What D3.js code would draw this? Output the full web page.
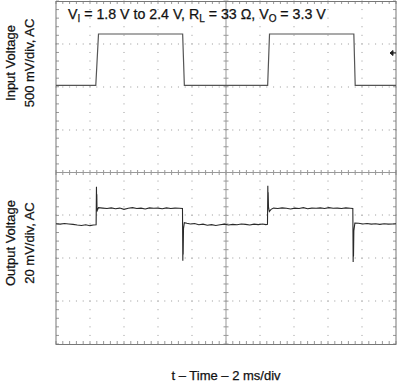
<!DOCTYPE html>
<html>
<head>
<meta charset="utf-8">
<script src="https://cdn.jsdelivr.net/npm/d3@7"></script>
<style>
  body { margin: 0; background: #fff; }
  svg text { font-family: "Liberation Sans", Arial, sans-serif; fill: #111; stroke: #111; stroke-width: 0.25px; }
</style>
</head>
<body>
<script>
const width = 400;
const height = 384;

// scope settings: 10 x 8 divisions
const timeDomain = [0, 20];          // ms, 2 ms/div
const inputCenter = 0.785;           // V at screen centre, 500 mV/div
const inputPerDiv = 0.5;
const outputCenter = 24.2;           // mV at screen centre, 20 mV/div
const outputPerDiv = 20;

// input step: time (ms), volts
const inputTrace = [
    [0, 1.8], [2.34, 1.8], [2.5, 2.4], [7.45, 2.4], [7.55, 1.8],
    [12.45, 1.8], [12.56, 2.4], [17.52, 2.4], [17.6, 1.8], [20, 1.8]
];

// output ripple: time (ms), mV (AC)
const outputTrace = [
    [0, 0.3], [0.25, 0.1], [0.5, 0.4], [0.75, 0.2], [1.0, 0.0], [1.25, -0.3], [1.5, -0.5],
    [1.75, -0.2], [2.0, -0.6], [2.2, -0.3], [2.36, -0.2],
    [2.38, 17.5], [2.39, 9.5], [2.40, 14], [2.41, 8], [2.43, 6.5], [2.5, 7.8],
    [2.75, 7.6], [3.0, 7.4], [3.25, 7.7], [3.5, 7.3], [3.75, 7.6], [4.0, 7.0], [4.25, 7.5],
    [4.5, 7.8], [4.75, 7.4], [5.0, 7.6], [5.25, 7.2], [5.5, 7.7], [5.75, 7.5], [6.0, 7.6],
    [6.25, 7.3], [6.5, 7.7], [6.75, 7.4], [7.0, 7.6], [7.25, 7.5], [7.44, 7.4],
    [7.46, -17], [7.47, -8], [7.48, -14], [7.50, -2], [7.55, 0.8], [7.7, 0.5],
    [7.9, 0.2], [8.15, 0.4], [8.4, -0.2], [8.65, 0.1], [8.9, -0.4], [9.15, -0.1], [9.4, -0.5],
    [9.65, -0.2], [9.9, 0.1], [10.15, -0.3], [10.4, 0.0], [10.65, -0.2], [10.9, 0.2],
    [11.15, 0.0], [11.4, -0.3], [11.65, 0.1], [11.9, -0.1], [12.15, 0.2], [12.35, -0.1], [12.44, 0.0],
    [12.46, 18], [12.47, 10], [12.48, 15], [12.5, 8], [12.55, 6], [12.65, 7.0], [12.8, 7.6],
    [13.05, 7.4], [13.3, 7.7], [13.55, 7.5], [13.8, 7.2], [14.05, 7.6], [14.3, 7.4], [14.55, 7.8],
    [14.8, 7.3], [15.05, 7.6], [15.3, 7.5], [15.55, 7.7], [15.8, 7.4], [16.05, 7.8], [16.3, 7.5],
    [16.55, 7.6], [16.8, 7.4], [17.05, 7.7], [17.3, 7.5], [17.46, 7.4],
    [17.48, -17.5], [17.49, -9], [17.50, -15], [17.52, -3], [17.58, 0.6], [17.8, 0.5],
    [18.05, 0.2], [18.3, 0.4], [18.55, 0.1], [18.8, 0.3], [19.05, 0.0], [19.3, 0.3], [19.55, 0.1],
    [19.8, 0.2], [20, 0.3]
];

const titleParts = [
    ["V", ""], ["I", "sub"], [" = 1.8 V to 2.4 V, R", ""], ["L", "sub"],
    [" = 33 \u03A9, V", ""], ["O", "sub"], [" = 3.3 V", ""]
];
const inputLabel = ["Input Voltage", "500 mV/div, AC"];
const outputLabel = ["Output Voltage", "20 mV/div, AC"];
const timeLabel = "t \u2013 Time \u2013 2 ms/div";

const svg = d3.select("body")
    .append("svg")
    .attr("width", width)
    .attr("height", height);

const plotLeft = 56, plotRight = 396, plotTop = 1, plotBottom = 344;

const x = d3.scaleLinear().domain(timeDomain).range([plotLeft, plotRight]);
const yDiv = d3.scaleLinear().domain([-4, 4]).range([plotBottom, plotTop]);
const xDiv = d3.scaleLinear().domain([0, 10]).range([plotLeft, plotRight]);
const yIn = d3.scaleLinear()
    .domain([inputCenter - 4 * inputPerDiv, inputCenter + 4 * inputPerDiv])
    .range([plotBottom, plotTop]);
const yOut = d3.scaleLinear()
    .domain([outputCenter - 4 * outputPerDiv, outputCenter + 4 * outputPerDiv])
    .range([plotBottom, plotTop]);

const grid = svg.append("g").attr("class", "grid");
const gridColor = "#999";

// dotted graticule lines (inner, not centre)
const minorX = d3.range(0, 50.001, 1).map(d => d / 5);
const minorY = d3.range(-20, 20.001, 1).map(d => d / 5);
const innerCols = [1, 2, 3, 4, 6, 7, 8, 9];
const innerRows = [-3, -2, -1, 1, 2, 3];

innerCols.forEach(c => {
    grid.selectAll(null)
        .data(minorY)
        .enter().append("rect")
        .attr("x", Math.round(xDiv(c)) - 0.5)
        .attr("y", d => yDiv(d) - 0.5)
        .attr("width", 1).attr("height", 1)
        .attr("fill", gridColor);
});
innerRows.forEach(r => {
    grid.selectAll(null)
        .data(minorX)
        .enter().append("rect")
        .attr("x", d => xDiv(d) - 0.5)
        .attr("y", Math.round(yDiv(r)) - 0.5)
        .attr("width", 1).attr("height", 1)
        .attr("fill", gridColor);
});

// centre lines with minor ticks
grid.append("line")
    .attr("x1", plotLeft).attr("x2", plotRight)
    .attr("y1", yDiv(0)).attr("y2", yDiv(0))
    .attr("stroke", gridColor).attr("stroke-width", 1);
grid.append("line")
    .attr("x1", xDiv(5)).attr("x2", xDiv(5))
    .attr("y1", plotTop).attr("y2", plotBottom)
    .attr("stroke", gridColor).attr("stroke-width", 1);
grid.selectAll(".hx")
    .data(minorX)
    .enter().append("line")
    .attr("x1", d => xDiv(d)).attr("x2", d => xDiv(d))
    .attr("y1", yDiv(0) - 2.5).attr("y2", yDiv(0) + 2.5)
    .attr("stroke", gridColor);
grid.selectAll(".vy")
    .data(minorY)
    .enter().append("line")
    .attr("y1", d => yDiv(d)).attr("y2", d => yDiv(d))
    .attr("x1", xDiv(5) - 2.5).attr("x2", xDiv(5) + 2.5)
    .attr("stroke", gridColor);

// edge ticks
grid.selectAll(".tt")
    .data(minorX)
    .enter().append("line")
    .attr("x1", d => xDiv(d)).attr("x2", d => xDiv(d))
    .attr("y1", plotTop).attr("y2", plotTop + 3)
    .attr("stroke", gridColor);
grid.selectAll(".bt")
    .data(minorX)
    .enter().append("line")
    .attr("x1", d => xDiv(d)).attr("x2", d => xDiv(d))
    .attr("y1", plotBottom).attr("y2", plotBottom - 3)
    .attr("stroke", gridColor);
grid.selectAll(".lt")
    .data(minorY)
    .enter().append("line")
    .attr("y1", d => yDiv(d)).attr("y2", d => yDiv(d))
    .attr("x1", plotLeft).attr("x2", plotLeft + 3)
    .attr("stroke", gridColor);
grid.selectAll(".rt")
    .data(minorY)
    .enter().append("line")
    .attr("y1", d => yDiv(d)).attr("y2", d => yDiv(d))
    .attr("x1", plotRight).attr("x2", plotRight - 3)
    .attr("stroke", gridColor);

// frame
grid.append("rect")
    .attr("x", plotLeft).attr("y", plotTop + 0.5)
    .attr("width", plotRight - plotLeft).attr("height", plotBottom - plotTop)
    .attr("fill", "none")
    .attr("stroke", "#777")
    .attr("stroke-width", 1);

// traces
const inLine = d3.line().x(d => x(d[0])).y(d => yIn(d[1]));
const outLine = d3.line().x(d => x(d[0])).y(d => yOut(d[1]));

svg.append("path")
    .datum(inputTrace)
    .attr("d", inLine)
    .attr("fill", "none")
    .attr("stroke", "#555")
    .attr("stroke-width", 1.2);

svg.append("path")
    .datum(outputTrace)
    .attr("d", outLine)
    .attr("fill", "none")
    .attr("stroke", "#2a2a2a")
    .attr("stroke-width", 1.1);

// trigger level marker
const trigY = 53;
svg.append("path")
    .attr("d", `M${plotRight - 6},${trigY} l3,-2.5 v5 z M${plotRight - 4},${trigY} h4`)
    .attr("fill", "#222")
    .attr("stroke", "#222")
    .attr("stroke-width", 1);

// title
const title = svg.append("text")
    .attr("x", 68)
    .attr("y", 19)
    .attr("font-size", 14.2);
titleParts.forEach((p, i) => {
    const t = title.append("tspan").text(p[0]);
    if (p[1] === "sub") t.attr("font-size", 10).attr("dy", 3);
    else if (i > 0) t.attr("dy", -3);
});

// rotated axis labels
function sideLabel(lines, cy) {
    lines.forEach((s, i) => {
        svg.append("text")
            .attr("transform", `translate(${15 + i * 19},${cy}) rotate(-90)`)
            .attr("text-anchor", "middle")
            .attr("font-size", 13)
            .text(s);
    });
}
sideLabel(inputLabel, 63);
sideLabel(outputLabel, 243);

svg.append("text")
    .attr("x", (plotLeft + plotRight) / 2)
    .attr("y", 380)
    .attr("text-anchor", "middle")
    .attr("font-size", 13)
    .text(timeLabel);
</script>
</body>
</html>
